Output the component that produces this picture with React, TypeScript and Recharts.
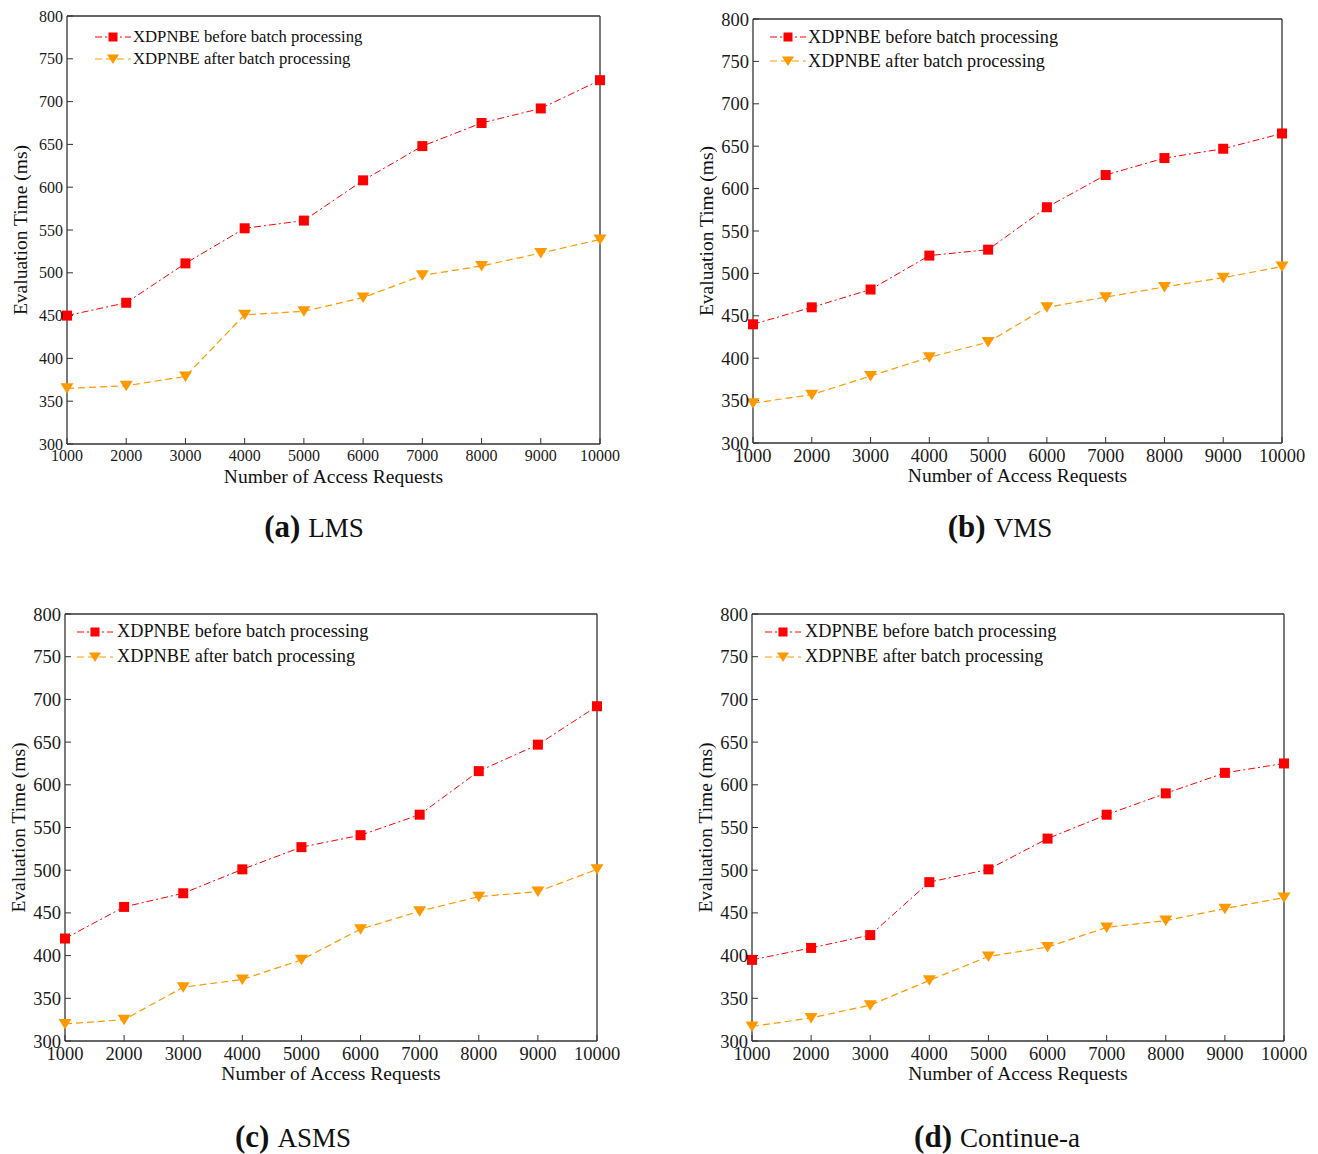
import React from 'react';
import { LineChart, Line, XAxis, YAxis, Legend, Label } from 'recharts';

const requestCounts = [1000, 2000, 3000, 4000, 5000, 6000, 7000, 8000, 9000, 10000];
const timeTicks = [300, 350, 400, 450, 500, 550, 600, 650, 700, 750, 800];

const lmsBefore = [450, 465, 511, 552, 561, 608, 648, 675, 692, 725];
const lmsAfter = [365, 368, 379, 451, 455, 471, 497, 508, 523, 539];
const vmsBefore = [440, 460, 481, 521, 528, 578, 616, 636, 647, 665];
const vmsAfter = [347, 357, 379, 401, 419, 460, 472, 484, 495, 508];
const asmsBefore = [420, 457, 473, 501, 527, 541, 565, 616, 647, 692];
const asmsAfter = [320, 325, 363, 372, 395, 431, 452, 469, 475, 501];
const contBefore = [395, 409, 424, 486, 501, 537, 565, 590, 614, 625];
const contAfter = [317, 327, 342, 371, 399, 410, 433, 441, 455, 468];

const SERIF = '"Liberation Serif", "Times New Roman", serif';
const AXIS = '#333';
const RED = '#ff0000';
const ORANGE = '#ff9900';
const CHART_W = 658;
const CHART_H = 500;
const Y_AXIS_W = 50;
const X_AXIS_H = 42;

const series = [
  { key: 'before', label: 'XDPNBE before batch processing', color: RED, dash: '7 3 2 3', marker: 'square' },
  { key: 'after', label: 'XDPNBE after batch processing', color: ORANGE, dash: '7 4', marker: 'triangle' },
];

function squareDot(props: any) {
  const { cx, cy, index } = props;
  if (cx == null || cy == null) return <g key={`s-${index}`} />;
  return <rect key={`s-${index}`} x={cx - 5} y={cy - 5} width={10} height={10} fill={RED} />;
}

function triangleDot(props: any) {
  const { cx, cy, index } = props;
  if (cx == null || cy == null) return <g key={`t-${index}`} />;
  return (
    <path
      key={`t-${index}`}
      d={`M${cx - 6.5},${cy - 5} L${cx + 6.5},${cy - 5} L${cx},${cy + 5.5} Z`}
      fill={ORANGE}
    />
  );
}

// mirrored axes keep their tick marks but draw no labels
const noLabel = () => <g />;

function legendMarker(marker: string, color: string) {
  if (marker === 'square') return <rect x={13.5} y={2.5} width={9} height={9} fill={color} />;
  return <path d="M12,2.5 L24,2.5 L18,12 Z" fill={color} />;
}

type PanelProps = {
  before: number[];
  after: number[];
  tag: string;
  title: string;
  left: number;
  top: number;
  plot: { l: number; t: number; r: number; b: number };
  tickFont: number;
  legendFont: number;
  legend: { x: number; y: number; row: number; gap: number };
  caption: { x: number; y: number };
};

function Panel(p: PanelProps) {
  const data = requestCounts.map((n, i) => ({ n, before: p.before[i], after: p.after[i] }));
  const margin = {
    top: p.plot.t - p.top - 1,
    left: p.plot.l - p.left - Y_AXIS_W,
    right: p.left + CHART_W - p.plot.r - 1,
    bottom: p.top + CHART_H - p.plot.b - X_AXIS_H,
  };
  const tick = { fill: '#1a1a1a', fontSize: p.tickFont, fontFamily: SERIF };
  const plotMidX = (p.plot.l + p.plot.r) / 2 - p.left;
  const plotMidY = (p.plot.t + p.plot.b) / 2 - p.top;
  const yLabelX = p.plot.l - p.left - 47;
  const xLabelY = p.plot.b - p.top + 39;

  const renderLegend = () => (
    <div style={{ fontFamily: SERIF, fontSize: p.legendFont, color: '#111', lineHeight: 1 }}>
      {series.map((s) => (
        <div key={s.key} style={{ display: 'flex', alignItems: 'center', height: p.legend.row }}>
          <svg width={36} height={14} style={{ marginRight: p.legend.gap }}>
            <line x1={0} y1={7} x2={36} y2={7} stroke={s.color} strokeWidth={1} strokeDasharray={s.dash} />
            {legendMarker(s.marker, s.color)}
          </svg>
          <span>{s.label}</span>
        </div>
      ))}
    </div>
  );

  return (
    <div style={{ position: 'absolute', left: p.left, top: p.top }}>
      <LineChart width={CHART_W} height={CHART_H} data={data} margin={margin}>
        <XAxis
          dataKey="n"
          type="number"
          domain={[1000, 10000]}
          ticks={requestCounts}
          interval={0}
          height={X_AXIS_H}
          tickSize={-6}
          tickMargin={12}
          tick={tick}
          axisLine={{ stroke: AXIS, strokeWidth: 1.3 }}
          tickLine={{ stroke: AXIS }}
        >
          <Label
            content={() => (
              <text x={plotMidX} y={xLabelY} textAnchor="middle" fontFamily={SERIF} fontSize={19.5} fill="#111">
                Number of Access Requests
              </text>
            )}
          />
        </XAxis>
        <XAxis
          xAxisId="top"
          orientation="top"
          type="number"
          domain={[1000, 10000]}
          ticks={requestCounts}
          interval={0}
          height={1}
          tickSize={-6}
          tick={noLabel}
          axisLine={{ stroke: AXIS, strokeWidth: 1.3 }}
          tickLine={{ stroke: AXIS }}
        />
        <YAxis
          type="number"
          domain={[300, 800]}
          ticks={timeTicks}
          interval={0}
          width={Y_AXIS_W}
          tickSize={-6}
          tickMargin={10}
          tick={tick}
          axisLine={{ stroke: AXIS, strokeWidth: 1.3 }}
          tickLine={{ stroke: AXIS }}
        >
          <Label
            content={() => (
              <text
                x={yLabelX}
                y={plotMidY}
                transform={`rotate(-90 ${yLabelX} ${plotMidY})`}
                textAnchor="middle"
                dominantBaseline="central"
                fontFamily={SERIF}
                fontSize={19.5}
                fill="#111"
              >
                Evaluation Time (ms)
              </text>
            )}
          />
        </YAxis>
        <YAxis
          yAxisId="right"
          orientation="right"
          type="number"
          domain={[300, 800]}
          ticks={timeTicks}
          interval={0}
          width={1}
          tickSize={-6}
          tick={noLabel}
          axisLine={{ stroke: AXIS, strokeWidth: 1.3 }}
          tickLine={{ stroke: AXIS }}
        />
        <Legend
          layout="vertical"
          align="center"
          verticalAlign="middle"
          wrapperStyle={{ left: p.legend.x, top: p.legend.y, width: 'auto' }}
          content={renderLegend}
        />
        <Line
          dataKey="before"
          name={series[0].label}
          stroke={RED}
          strokeWidth={1}
          strokeDasharray={series[0].dash}
          dot={squareDot}
          activeDot={false}
          isAnimationActive={false}
        />
        <Line
          dataKey="after"
          name={series[1].label}
          stroke={ORANGE}
          strokeWidth={1.2}
          strokeDasharray={series[1].dash}
          dot={triangleDot}
          activeDot={false}
          isAnimationActive={false}
        />
      </LineChart>
      <div
        style={{
          position: 'absolute',
          left: p.caption.x - 200,
          top: p.caption.y - 18,
          width: 400,
          height: 36,
          lineHeight: '36px',
          textAlign: 'center',
          fontFamily: SERIF,
          color: '#111',
          whiteSpace: 'nowrap',
        }}
      >
        <span style={{ fontWeight: 'bold', fontSize: 31 }}>{p.tag}</span>
        <span style={{ fontSize: 27, marginLeft: 8 }}>{p.title}</span>
      </div>
    </div>
  );
}

export default function App() {
  return (
    <div style={{ position: 'absolute', left: 0, top: 0, width: 1318, height: 1154, background: '#fff' }}>
      <Panel
        before={lmsBefore}
        after={lmsAfter}
        tag="(a)"
        title="LMS"
        left={0}
        top={0}
        plot={{ l: 67, t: 16, r: 600, b: 444 }}
        tickFont={16}
        legendFont={16.7}
        legend={{ x: 95, y: 26, row: 22, gap: 2 }}
        caption={{ x: 314, y: 527 }}
      />
      <Panel
        before={vmsBefore}
        after={vmsAfter}
        tag="(b)"
        title="VMS"
        left={660}
        top={0}
        plot={{ l: 753, t: 19, r: 1282, b: 443 }}
        tickFont={18.5}
        legendFont={18.2}
        legend={{ x: 110, y: 25, row: 24, gap: 2 }}
        caption={{ x: 340, y: 527 }}
      />
      <Panel
        before={asmsBefore}
        after={asmsAfter}
        tag="(c)"
        title="ASMS"
        left={0}
        top={600}
        plot={{ l: 65, t: 614, r: 597, b: 1041 }}
        tickFont={18.5}
        legendFont={18.3}
        legend={{ x: 77, y: 19, row: 25, gap: 4 }}
        caption={{ x: 293, y: 537 }}
      />
      <Panel
        before={contBefore}
        after={contAfter}
        tag="(d)"
        title="Continue-a"
        left={660}
        top={600}
        plot={{ l: 752, t: 614, r: 1284, b: 1041 }}
        tickFont={18.5}
        legendFont={18.3}
        legend={{ x: 105, y: 19, row: 25, gap: 4 }}
        caption={{ x: 337, y: 537 }}
      />
    </div>
  );
}
